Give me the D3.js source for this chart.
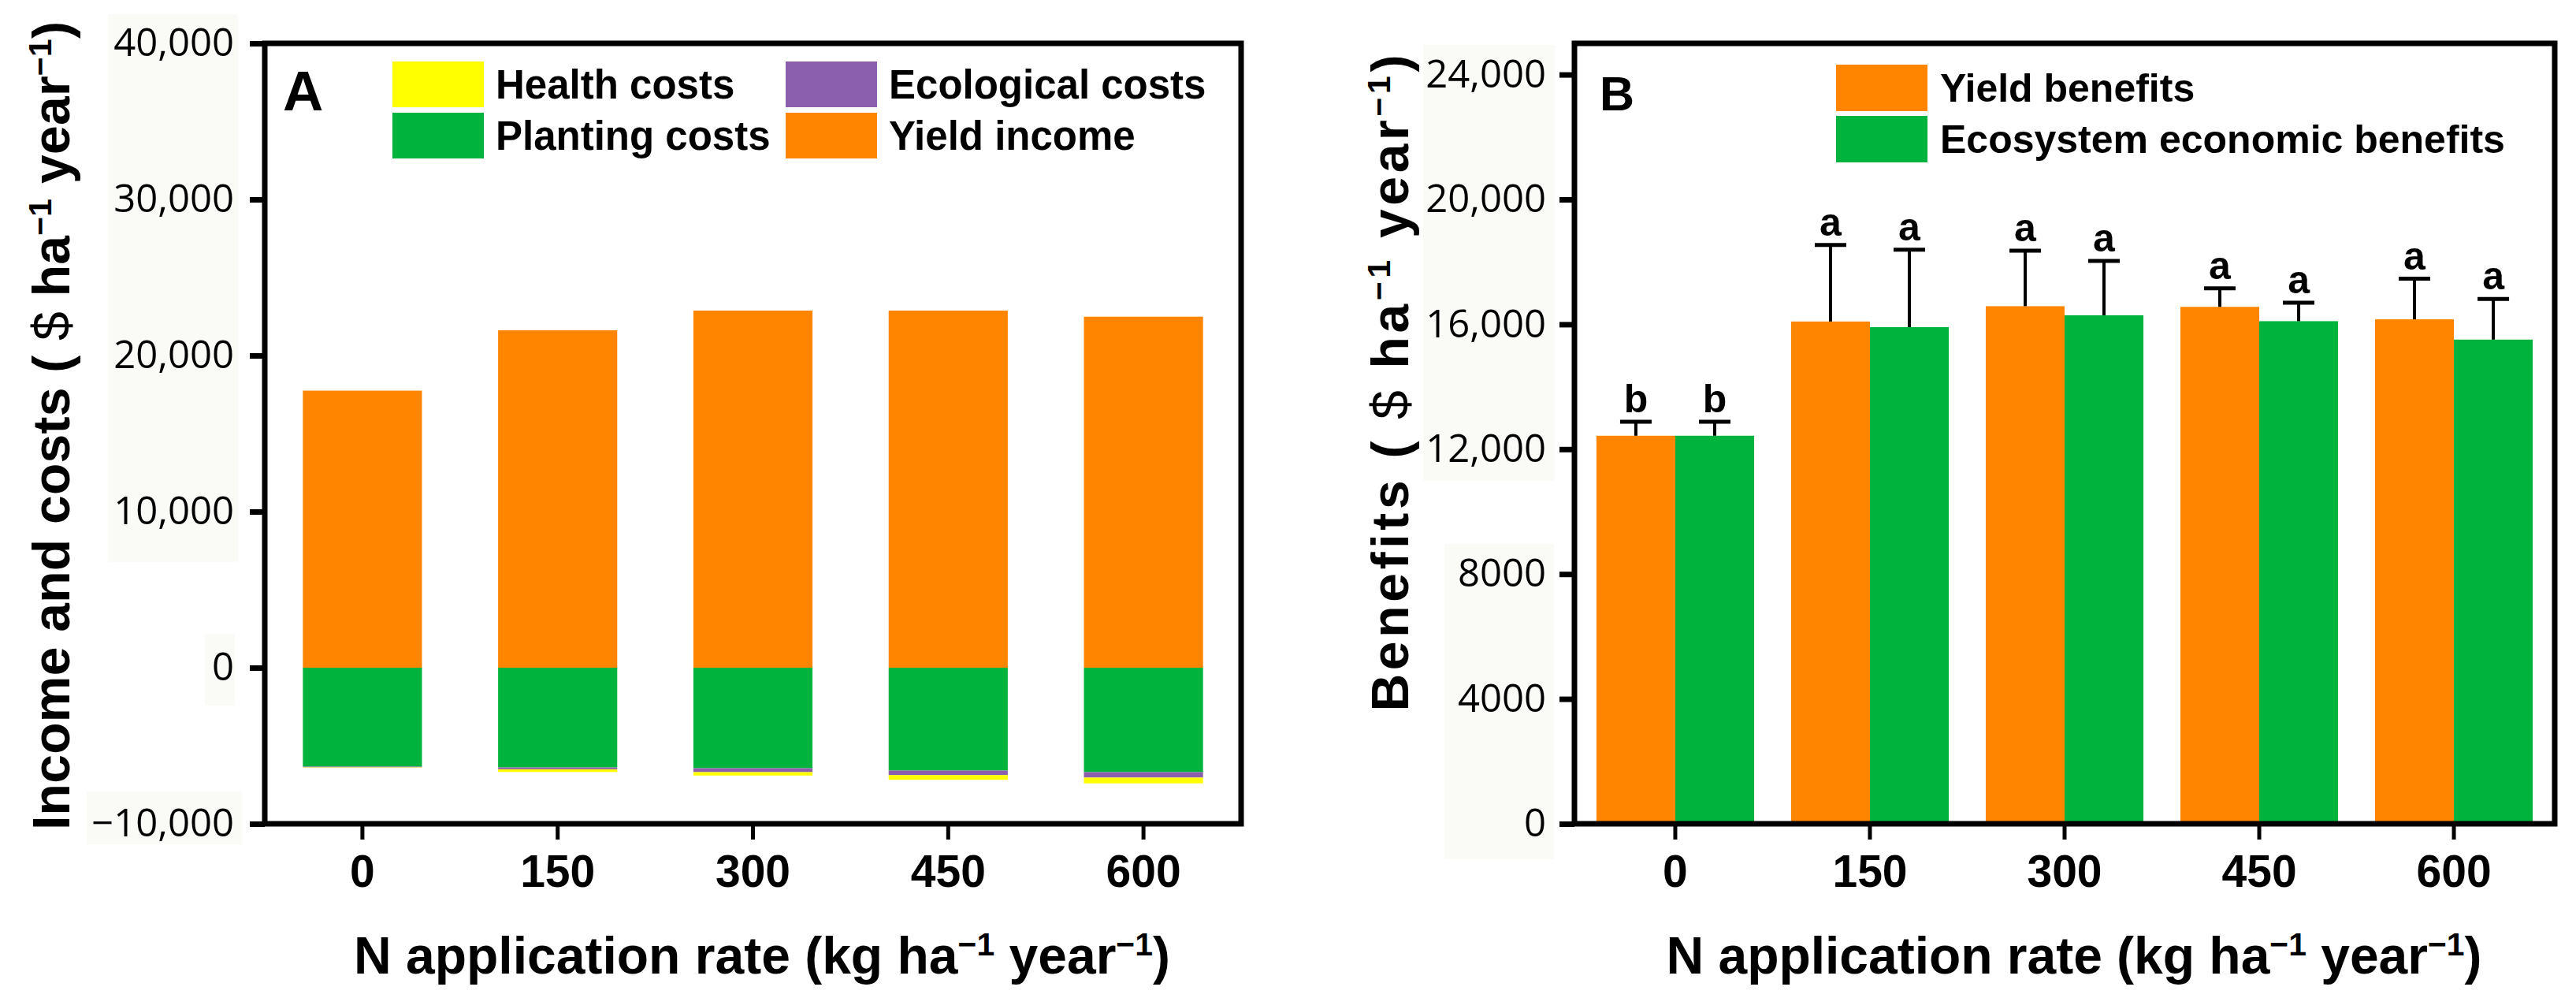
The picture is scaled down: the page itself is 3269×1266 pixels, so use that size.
<!DOCTYPE html>
<html><head><meta charset="utf-8">
<script src="https://cdn.jsdelivr.net/npm/d3@7"></script>
<style>body{margin:0;background:#fff} svg{display:block}</style>
</head><body>
<svg id="c" width="3269" height="1266"></svg>
<script>
// ---------- data ----------
const categories = ["0", "150", "300", "450", "600"];
// Panel A (US$ ha-1 year-1)
const yieldIncome     = [17750, 21620, 22880, 22880, 22490];
const plantingCosts   = [6340, 6390, 6440, 6590, 6690];
const ecologicalCosts = [40, 120, 250, 290, 350];
const healthCosts     = [20, 170, 220, 300, 370];
const yTicksA = [-10000, 0, 10000, 20000, 30000, 40000];
// Panel B
const yieldBenefits   = [12430, 16090, 16580, 16560, 16160];
const yieldBenefitsErr= [450, 2450, 1780, 590, 1300];
const ecoBenefits     = [12430, 15910, 16290, 16100, 15510];
const ecoBenefitsErr  = [450, 2480, 1740, 590, 1300];
const yieldSig = ["b", "a", "a", "a", "a"];
const ecoSig   = ["b", "a", "a", "a", "a"];
const yTicksB = [0, 4000, 8000, 12000, 16000, 20000, 24000];
const yTickLabelsB = ["0", "4000", "8000", "12,000", "16,000", "20,000", "24,000"];

const legendA = ["Health costs", "Ecological costs", "Planting costs", "Yield income"];
const legendB = ["Yield benefits", "Ecosystem economic benefits"];

const C = { yellow: "#FFFF00", purple: "#8C5FAD", green: "#00B33C", orange: "#FF8500" };

const FONT = "'Liberation Sans', Arial, Helvetica, sans-serif";
const TICKFONT = "'Open Sans', 'Liberation Sans', sans-serif";
const svg = d3.select("#c");

// faint label backgrounds (as in the source image)
const bgRects = [[137,18,165,695],[260,804,38,91],[110,1004,197,67],[1806,57,167,553],[1833,690,139,400]];
svg.selectAll("rect.bg").data(bgRects).join("rect").attr("class","bg")
  .attr("x", d=>d[0]).attr("y", d=>d[1]).attr("width", d=>d[2]).attr("height", d=>d[3])
  .attr("fill", "#fafaf7");

function styleAxisY(g, fontSize){
  g.select(".domain").remove();
  g.selectAll(".tick line").attr("stroke","#000").attr("stroke-width",7);
  g.selectAll(".tick text").attr("font-family",TICKFONT).attr("font-size",fontSize).attr("fill","#000");
}
function styleAxisX(g){
  g.select(".domain").remove();
  g.selectAll(".tick line").attr("stroke","#000").attr("stroke-width",5);
  g.selectAll(".tick text").attr("font-family",FONT).attr("font-weight","bold")
    .attr("font-size",57).attr("fill","#000").attr("y",80).attr("dy",0);
}
function yTitle(x, yc, len, main){
  const t = svg.append("text").attr("transform",`translate(${x},${yc}) rotate(-90)`)
    .attr("text-anchor","middle").attr("font-family",FONT).attr("font-weight","bold")
    .attr("font-size",66).attr("textLength",len).attr("lengthAdjust","spacing");
  t.append("tspan").text(main + " ( ");
  t.append("tspan").attr("font-weight","normal").text("$");
  t.append("tspan").text(" ha");
  t.append("tspan").attr("baseline-shift","super").attr("font-size","62%").text("\u22121");
  t.append("tspan").text(" year");
  t.append("tspan").attr("baseline-shift","super").attr("font-size","62%").text("\u22121");
  t.append("tspan").text(")");
}
function xTitle(xc, y, len){
  const t = svg.append("text").attr("x",xc).attr("y",y)
    .attr("text-anchor","middle").attr("font-family",FONT).attr("font-weight","bold")
    .attr("font-size",66).attr("textLength",len).attr("lengthAdjust","spacing");
  t.append("tspan").text("N application rate (kg ha");
  t.append("tspan").attr("baseline-shift","super").attr("font-size","62%").text("\u22121");
  t.append("tspan").text(" year");
  t.append("tspan").attr("baseline-shift","super").attr("font-size","62%").text("\u22121");
  t.append("tspan").text(")");
}

// ---------- Panel A ----------
const A = {l:336, r:1575, t:55, b:1045};
const xA = d3.scaleBand().domain(categories).range([A.l, A.r]).paddingInner(0.39).paddingOuter(0.195);
const yA = d3.scaleLinear().domain([-10000, 40000]).range([A.b, A.t]);

const rowsA = categories.map((c,i)=>({cat:c, yield: yieldIncome[i], planting: -plantingCosts[i],
  ecological: -ecologicalCosts[i], health: -healthCosts[i]}));
const keysA = ["yield","planting","ecological","health"];
const colorA = {yield:C.orange, planting:C.green, ecological:C.purple, health:C.yellow};
const stackA = d3.stack().keys(keysA).offset(d3.stackOffsetDiverging)(rowsA);

svg.append("g").selectAll("g").data(stackA).join("g").attr("fill", s=>colorA[s.key])
  .selectAll("rect").data(s=>s).join("rect")
  .attr("x", d=>xA(d.data.cat)).attr("width", xA.bandwidth())
  .attr("y", d=>yA(Math.max(d[0],d[1]))).attr("height", d=>Math.abs(yA(d[0])-yA(d[1])));

const gyA = svg.append("g").attr("transform",`translate(${A.l},0)`)
  .call(d3.axisLeft(yA).tickValues(yTicksA).tickFormat(d3.format(",")).tickSize(19).tickPadding(20));
styleAxisY(gyA, 49);
const gxA = svg.append("g").attr("transform",`translate(0,${A.b})`)
  .call(d3.axisBottom(xA).tickSize(20).tickSizeOuter(0));
styleAxisX(gxA);
svg.append("rect").attr("x",A.l).attr("y",A.t).attr("width",A.r-A.l).attr("height",A.b-A.t)
  .attr("fill","none").attr("stroke","#000").attr("stroke-width",7);

svg.append("text").attr("x",359).attr("y",140).attr("font-family",FONT).attr("font-weight","bold")
  .attr("font-size",71).text("A");

// legend A (2x2)
const legAColors = [C.yellow, C.purple, C.green, C.orange];
const legAPos = [[498,78],[997,78],[498,143],[997,143]];
const lgA = svg.append("g").selectAll("g").data(legendA).join("g")
  .attr("transform",(d,i)=>`translate(${legAPos[i][0]},${legAPos[i][1]})`);
lgA.append("rect").attr("width",116).attr("height",58).attr("fill",(d,i)=>legAColors[i]);
lgA.append("text").attr("x",131).attr("y",47).attr("font-family",FONT).attr("font-weight","bold")
  .attr("font-size",51).text(d=>d);

yTitle(88, 540, 1026, "Income and costs");
xTitle(967, 1235, 1036);

// ---------- Panel B ----------
const B = {l:1998, r:3242, t:55, b:1045};
const xB = d3.scaleBand().domain(categories).range([B.l, B.r]).paddingInner(0.19).paddingOuter(0.113);
const subKeys = ["yield","eco"];
const xSub = d3.scaleBand().domain(subKeys).range([0, xB.bandwidth()]);
const yB = d3.scaleLinear().domain([0, 25000]).range([B.b, B.t]);
const colorB = {yield:C.orange, eco:C.green};
const rowsB = [];
categories.forEach((c,i)=>{
  rowsB.push({cat:c, key:"yield", v:yieldBenefits[i], e:yieldBenefitsErr[i], s:yieldSig[i]});
  rowsB.push({cat:c, key:"eco", v:ecoBenefits[i], e:ecoBenefitsErr[i], s:ecoSig[i]});
});
const cxB = d => xB(d.cat) + xSub(d.key) + xSub.bandwidth()/2;

svg.append("g").selectAll("rect").data(rowsB).join("rect")
  .attr("x", d=>xB(d.cat)+xSub(d.key)).attr("width", xSub.bandwidth())
  .attr("y", d=>yB(d.v)).attr("height", d=>yB(0)-yB(d.v)).attr("fill", d=>colorB[d.key]);

const eb = svg.append("g").attr("stroke","#000");
eb.selectAll("line.stem").data(rowsB).join("line").attr("class","stem")
  .attr("x1",cxB).attr("x2",cxB).attr("y1",d=>yB(d.v)).attr("y2",d=>yB(d.v+d.e)).attr("stroke-width",4);
eb.selectAll("line.cap").data(rowsB).join("line").attr("class","cap")
  .attr("x1",d=>cxB(d)-20).attr("x2",d=>cxB(d)+20).attr("y1",d=>yB(d.v+d.e)).attr("y2",d=>yB(d.v+d.e)).attr("stroke-width",5);
svg.append("g").selectAll("text").data(rowsB).join("text")
  .attr("x",cxB).attr("y",d=>yB(d.v+d.e)-12).attr("text-anchor","middle")
  .attr("font-family",FONT).attr("font-weight","bold").attr("font-size",50).text(d=>d.s);

const gyB = svg.append("g").attr("transform",`translate(${B.l},0)`)
  .call(d3.axisLeft(yB).tickValues(yTicksB).tickFormat((d,i)=>yTickLabelsB[i]).tickSize(19).tickPadding(17));
styleAxisY(gyB, 49);
const gxB = svg.append("g").attr("transform",`translate(0,${B.b})`)
  .call(d3.axisBottom(xB).tickSize(20).tickSizeOuter(0));
styleAxisX(gxB);
svg.append("rect").attr("x",B.l).attr("y",B.t).attr("width",B.r-B.l).attr("height",B.b-B.t)
  .attr("fill","none").attr("stroke","#000").attr("stroke-width",7);

svg.append("text").attr("x",2030).attr("y",140).attr("font-family",FONT).attr("font-weight","bold")
  .attr("font-size",61).text("B");

const lgB = svg.append("g").selectAll("g").data(legendB).join("g")
  .attr("transform",(d,i)=>`translate(2330,${82+i*65})`);
lgB.append("rect").attr("width",116).attr("height",59).attr("fill",(d,i)=>[C.orange,C.green][i]);
lgB.append("text").attr("x",132).attr("y",47).attr("font-family",FONT).attr("font-weight","bold")
  .attr("font-size",50).text(d=>d);

yTitle(1787, 486, 833, "Benefits");
xTitle(2632, 1235, 1035);
</script></body></html>
